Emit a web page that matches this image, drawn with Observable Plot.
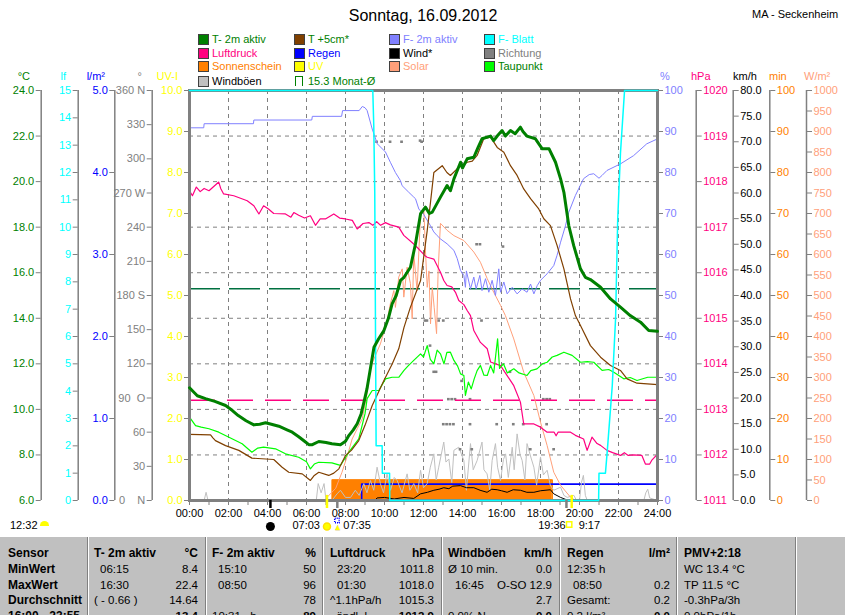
<!DOCTYPE html>
<html><head><meta charset="utf-8">
<script src="https://cdn.jsdelivr.net/npm/d3@7"></script>
<script src="https://cdn.jsdelivr.net/npm/@observablehq/plot@0.6"></script>
<style>
html,body{margin:0;padding:0;background:#fff;overflow:hidden;}
body{width:845px;height:615px;position:relative;font-family:"Liberation Sans",Arial,sans-serif;}
#chart{position:absolute;left:0;top:0;}
.t{position:absolute;white-space:pre;line-height:14px;height:14px;}
.sw{position:absolute;width:9px;height:9px;border:1px solid #404040;}
#tbl{position:absolute;left:0;top:537px;width:845px;height:78px;background:#c0c0c0;overflow:hidden;}
.dv{position:absolute;top:0;height:78px;width:1px;background:#808080;border-right:1px solid #fff;}
</style></head><body>
<div id="chart"></div>
<div id="ov"></div>
<div id="tbl"></div>
<script>
// ---------- data (hour of day, value in own unit) ----------
const t2m = [[0,10.95],[0.4,10.6],[0.82,10.47],[1.3,10.35],[1.85,10.17],[2.2,9.95],[2.5,9.73],[2.9,9.5],[3.3,9.32],[3.6,9.35],[3.9,9.41],[4.2,9.35],[4.58,9.26],[5.0,9.1],[5.27,9.0],[5.6,8.8],[5.9,8.6],[6.12,8.45],[6.3,8.45],[6.63,8.59],[7.0,8.55],[7.3,8.49],[7.74,8.45],[8.0,8.6],[8.17,8.85],[8.4,9.1],[8.6,9.37],[8.8,9.8],[8.94,10.3],[9.1,10.9],[9.2,11.4],[9.46,12.73],[9.7,13.1],[9.97,13.46],[10.2,14.0],[10.39,14.63],[10.6,15.0],[10.82,15.66],[11.0,15.8],[11.33,16.24],[11.59,17.27],[11.85,18.59],[12.1,18.88],[12.3,18.6],[12.45,18.66],[12.87,19.32],[13.21,19.83],[13.38,19.6],[13.56,20.12],[13.9,20.85],[14.0,20.6],[14.24,21.0],[14.58,21.07],[14.8,21.5],[15.0,21.88],[15.44,22.0],[15.6,21.8],[15.78,22.0],[16.03,22.24],[16.2,22.0],[16.46,22.24],[16.7,22.1],[16.97,22.39],[17.1,22.2],[17.3,22.0],[17.74,21.88],[18.09,21.44],[18.44,21.44],[18.77,20.85],[19.03,20.12],[19.2,19.53],[19.45,18.07],[19.7,17.2],[20.05,16.17],[20.3,15.8],[20.56,15.7],[21.08,15.36],[21.59,14.85],[22.1,14.49],[22.6,14.12],[23.13,13.83],[23.55,13.46],[24,13.43]];
const t5cm = [[0,8.9],[1.08,8.88],[1.2,8.75],[1.33,8.63],[1.85,8.41],[2.53,8.2],[3.2,7.86],[4.32,7.8],[4.75,7.46],[5.09,7.24],[5.78,7.17],[6.2,6.88],[6.4,7.1],[6.63,7.24],[7.14,7.1],[7.4,7.2],[7.66,7.39],[8.0,7.98],[8.3,8.2],[8.68,8.63],[9.0,9.3],[9.37,10.17],[9.97,11.27],[10.4,12.0],[10.73,12.66],[11.0,13.6],[11.33,14.49],[11.85,15.66],[12.19,17.85],[12.36,19.1],[12.53,20.4],[12.96,20.7],[13.2,20.4],[13.38,20.27],[13.72,20.56],[14.24,20.85],[14.5,20.9],[14.75,21.15],[15.09,21.88],[15.44,21.95],[15.78,21.5],[16.12,21.29],[16.46,20.7],[16.8,20.27],[17.14,19.68],[17.49,19.25],[17.91,18.8],[18.17,18.37],[18.51,18.07],[18.85,17.2],[19.2,16.17],[19.54,14.85],[19.79,14.12],[20.05,13.68],[20.56,12.8],[21.08,12.29],[21.59,11.93],[22.1,11.71],[22.44,11.34],[22.95,11.15],[24,11.09]];
const dewPoint = [[0,9.66],[0.31,9.29],[0.6,9.22],[1.0,9.15],[1.5,9.0],[2.18,8.71],[2.7,8.49],[3.2,8.12],[3.5,8.3],[3.8,8.34],[4.41,8.27],[4.92,8.05],[5.6,7.9],[6.0,7.7],[6.2,7.39],[6.4,7.6],[6.63,7.68],[7.3,7.65],[7.74,7.54],[8.17,8.12],[8.68,8.71],[9.0,9.8],[9.11,10.47],[9.37,10.83],[9.71,10.83],[10.05,11.34],[10.39,11.41],[10.73,11.41],[11.0,11.71],[11.2,11.9],[11.5,12.15],[11.85,12.44],[12.0,12.3],[12.19,12.8],[12.35,12.2],[12.53,12.0],[12.7,12.6],[12.87,12.44],[13.05,12.0],[13.2,12.5],[13.38,12.51],[13.56,12.15],[13.75,11.9],[13.9,11.56],[14.07,11.49],[14.15,10.61],[14.3,11.2],[14.45,10.9],[14.6,11.34],[14.75,11.7],[14.92,11.93],[15.1,11.5],[15.27,11.49],[15.44,11.93],[15.6,11.6],[15.8,13.1],[15.9,11.8],[16.1,12.0],[16.3,11.6],[16.63,11.78],[16.9,11.6],[17.31,11.49],[17.5,11.7],[17.82,11.78],[18.1,12.0],[18.34,12.07],[18.6,12.3],[18.85,12.37],[19.2,12.51],[19.62,12.37],[20.05,12.07],[20.4,12.1],[20.73,12.07],[21.16,11.71],[21.5,11.75],[21.76,11.63],[22.27,11.34],[22.6,11.4],[22.95,11.27],[23.5,11.41],[24,11.41]];
const humidity = [[0,91.5],[0.05,90.9],[0.73,90.9],[0.75,91.9],[3.28,91.9],[3.3,92.8],[6.27,92.8],[6.3,93.7],[7.8,93.7],[7.85,95.1],[8.7,95.1],[8.86,96.1],[9.0,95.8],[9.11,95.1],[9.37,90.6],[9.63,87],[10.05,85],[10.3,82.5],[10.56,80],[10.82,78],[10.9,76.8],[11.24,75.2],[11.5,74],[11.59,73.6],[11.76,71.1],[12.02,69.7],[12.36,67],[12.53,65.5],[12.7,64.6],[12.87,63.8],[13.21,62.6],[13.56,61],[13.73,59],[13.9,56.1],[14.07,54.9],[14.15,52],[14.2,56],[14.41,51.6],[14.58,54.5],[14.7,51.6],[14.89,54.9],[15.0,51.2],[15.18,54.1],[15.35,50.8],[15.52,53.7],[15.69,50],[15.86,56.5],[15.95,50.8],[16.12,53.3],[16.29,50.4],[16.55,52],[16.8,50.4],[17.06,51.6],[17.31,50.8],[17.49,52.8],[17.66,50.4],[17.83,52.4],[18.0,53.7],[18.34,55.3],[18.68,57.3],[18.85,59.8],[19.03,63],[19.28,67],[19.45,70.3],[19.79,74.4],[20.21,78.5],[20.5,79.5],[20.73,79.7],[21.0,78.6],[21.16,79.3],[21.41,80.5],[22.1,82.1],[22.77,84.1],[23.45,87],[24,88.2]];
const pressure = [[0,1017.8],[0.15,1017.69],[0.35,1017.88],[0.55,1017.78],[0.75,1017.85],[1.0,1017.8],[1.5,1017.99],[1.6,1017.85],[1.75,1017.73],[2.27,1017.69],[2.96,1017.58],[3.3,1017.47],[3.56,1017.29],[3.8,1017.47],[4.05,1017.4],[4.32,1017.3],[4.92,1017.29],[5.2,1017.22],[5.35,1017.32],[5.6,1017.26],[5.9,1017.2],[6.2,1017.25],[6.46,1017.04],[6.7,1017.18],[6.97,1017.18],[7.4,1017.29],[7.7,1017.2],[8.0,1017.18],[8.35,1017.15],[8.6,1016.96],[8.9,1017.08],[9.2,1017.1],[9.4,1017.04],[9.6,1017.12],[9.8,1017.04],[10.05,1017.1],[10.3,1017.05],[10.73,1017.0],[10.99,1016.82],[11.5,1016.63],[11.76,1016.52],[12.06,1016.38],[12.19,1016.34],[12.53,1016.3],[12.87,1016.01],[13.04,1015.83],[13.21,1015.72],[13.45,1015.69],[13.64,1015.57],[13.81,1015.39],[14.07,1015.3],[14.24,1015.17],[14.41,1015.06],[14.58,1014.73],[14.92,1014.47],[15.27,1014.33],[15.44,1014.04],[15.95,1013.96],[16.29,1013.74],[16.63,1013.52],[16.97,1013.16],[17.14,1012.68],[17.66,1012.68],[18.0,1012.61],[18.34,1012.5],[18.7,1012.5],[18.8,1012.42],[18.9,1012.5],[19.54,1012.5],[19.79,1012.43],[20.21,1012.35],[20.39,1012.1],[20.64,1012.39],[20.9,1012.25],[21.08,1012.21],[21.41,1012.1],[21.7,1012.05],[22.1,1011.99],[22.3,1012.05],[22.5,1011.99],[22.77,1012.0],[23.2,1011.99],[23.38,1011.8],[23.6,1011.8],[23.7,1011.88],[24,1012.02]];
const solar = [[0,0],[6.9,0],[7.0,5],[7.5,30],[7.82,69],[8.1,110],[8.34,150],[8.6,175],[8.86,199],[9.1,260],[9.28,325],[9.5,350],[9.79,382],[10.14,439],[10.3,480],[10.48,512],[10.56,471],[10.73,545],[10.91,565],[10.99,496],[11.16,569],[11.33,529],[11.42,443],[11.5,602],[11.67,512],[11.85,699],[12.02,707],[12.1,610],[12.19,520],[12.28,560],[12.36,431],[12.45,520],[12.55,470],[12.67,407],[12.75,560],[12.87,676],[13.21,659],[13.56,646],[14.07,634],[14.58,606],[14.92,581],[15.27,541],[15.6,508],[15.95,476],[16.2,451],[16.63,394],[17.14,313],[17.66,256],[18.0,191],[18.34,134],[18.68,69],[19.03,37],[19.54,8],[19.8,0],[24,0]];
const leafWet = [[0,15],[9.4,15],[9.45,13.7],[9.5,11.3],[9.57,2.0],[9.88,2.0],[9.89,1.0],[10.26,1.0],[10.27,0],[20.98,0],[21.0,1.0],[21.33,1.0],[21.42,1.77],[21.68,4.2],[21.85,6.65],[21.96,10.3],[22.1,12.7],[22.31,15],[24,15]];
const gusts = [[0,0],[0.75,0],[0.85,1.6],[0.95,0],[6.5,0],[6.6,3.3],[6.75,1.5],[6.9,3.3],[7.0,0],[7.3,0],[7.57,1.3],[7.74,2.0],[8.0,0.6],[8.26,0.6],[8.5,2.0],[8.7,1.0],[8.94,3.3],[9.1,1.5],[9.28,3.9],[9.45,2.0],[9.62,6.5],[9.79,3.3],[9.95,1.5],[10.13,5.2],[10.31,2.0],[10.5,4.5],[10.65,3.9],[10.9,1.5],[11.16,5.2],[11.3,2.0],[11.5,3.3],[11.7,1.5],[11.85,5.9],[12.0,2.5],[12.19,3.3],[12.35,6.5],[12.53,9.1],[12.65,4.0],[12.78,6.5],[13.04,11.4],[13.15,7.5],[13.3,8.1],[13.45,3.5],[13.56,9.8],[13.81,10.4],[14.07,7.8],[14.2,2.0],[14.41,11.1],[14.55,6.0],[14.75,7.8],[15.0,11.4],[15.1,6.0],[15.26,5.2],[15.4,2.0],[15.52,7.8],[15.69,11.1],[15.8,6.5],[15.95,3.9],[16.1,8.0],[16.21,9.1],[16.35,4.5],[16.55,10.4],[16.65,6.0],[16.8,13.0],[16.95,9.0],[17.06,7.8],[17.2,4.0],[17.31,11.1],[17.5,8.5],[17.66,6.5],[17.8,3.0],[18.0,8.5],[18.15,5.0],[18.34,5.9],[18.5,3.0],[18.68,2.0],[19.03,2.6],[19.2,1.0],[19.37,0.6],[19.71,1.0],[19.85,0],[20.0,0],[20.1,3.5],[20.2,4.9],[20.3,1.0],[20.4,0],[23.3,0],[23.4,1.5],[23.5,2.2],[23.6,0.5],[24,0]];
const windAvg = [[9.5,0],[9.62,0.5],[10.0,0.6],[10.5,0.3],[11.0,0.6],[11.5,0.4],[11.85,1.3],[12.2,1.6],[12.53,2.0],[12.8,2.2],[13.04,2.5],[13.3,2.3],[13.5,2.8],[13.9,2.9],[14.2,2.5],[14.58,2.5],[14.9,2.0],[15.26,1.6],[15.5,2.2],[15.78,2.1],[16.0,1.9],[16.29,1.6],[16.6,2.1],[16.97,2.0],[17.3,1.6],[17.66,1.6],[18.0,1.9],[18.51,2.1],[18.68,1.3],[19.03,0.6],[19.3,0.2],[19.54,0]];
const direction = [[9.62,315],[9.88,315],[10.31,315],[10.9,315],[11.85,316],[11.93,315],[12.1,158],[12.2,158],[12.36,136],[12.55,113],[12.67,113],[12.8,158],[13.04,67],[13.04,158],[13.21,67],[13.3,89],[13.38,67],[13.47,89],[13.56,67],[13.64,89],[13.9,45],[13.98,105],[14.41,89],[14.41,67],[14.5,45],[14.75,225],[14.92,225],[15.0,158],[15.78,67],[16.1,223],[16.46,113],[16.63,67],[17.14,67],[17.5,45],[18.17,89],[18.34,67],[18.34,89],[18.5,89],[18.7,45]];
const sunshine = [[0,0],[7.32,5],[18.6,0],[24,0]];
const rain = [[8.83,0],[8.83,0.2],[24,0.2]];
const monthAvgTemp = [15.3];
const refPressure = [1013.2];
const dayMarkers = [{h:4.15,c:"#000000",len:0.02},{h:7.05,c:"#ffff00",len:0.032},{h:7.58,c:"#808080",len:0.02},{h:19.33,c:"#808080",len:0.02},{h:19.6,c:"#ffff00",len:0.032}];
const bottomTexts = [{h:7.05,text:"07:03",dx:-7,anchor:"end"},{h:7.58,text:"07:35",dx:6,anchor:"start"},{h:19.6,text:"19:36",dx:-6,anchor:"end"},{h:19.6,text:"9:17",dx:7,anchor:"start"}];
const moonPhase = [4.15];
const sunrise = [7.05];
const hourTicks = d3.range(0,25,1);

// ---------- units ----------
const R = {C:[6,24], lf:[0,15], rain:[0,5], dir:[0,360], uv:[0,10], pct:[0,100], hpa:[1011,1020], kmh:[0,80], min:[0,100], wm2:[0,1000]};
const nm = (u,v) => (v - R[u][0])/(R[u][1]-R[u][0]);
const dn = (u,t) => R[u][0] + t*(R[u][1]-R[u][0]);
const dirNames = {360:"360 N",270:"270 W",180:"180 S",90:"90\u00a0\u00a0O",0:"0\u00a0\u00a0\u00a0\u00a0N"};

const axesLeft = [
  {u:"C", ticks:d3.range(6,24.01,2), fmt:v=>v.toFixed(1), color:"#008000", off:-148.3},
  {u:"lf", ticks:d3.range(0,15.01,1), fmt:v=>String(Math.round(v)), color:"#00ffff", off:-111.3},
  {u:"rain", ticks:[0,1,2,3,4,5], fmt:v=>v.toFixed(1), color:"#0000ff", off:-74.7},
  {u:"dir", ticks:d3.range(0,361,30), fmt:v=>dirNames[Math.round(v)] ?? String(Math.round(v)), color:"#808080", off:-37.3},
  {u:"uv", ticks:d3.range(0,10.01,1), fmt:v=>v.toFixed(1), color:"#ffff00", off:0}
];
const axesRight = [
  {u:"pct", ticks:d3.range(0,100.1,10), fmt:v=>String(Math.round(v)), color:"#8080ff", off:0},
  {u:"hpa", ticks:d3.range(1011,1020.1,1), fmt:v=>String(Math.round(v)), color:"#ff0080", off:38.7},
  {u:"kmh", ticks:d3.range(0,80.1,5), fmt:v=>v.toFixed(1), color:"#000000", off:75.7},
  {u:"min", ticks:d3.range(0,100.1,10), fmt:v=>String(Math.round(v)), color:"#ff8000", off:112.3},
  {u:"wm2", ticks:d3.range(0,1000.1,50), fmt:v=>String(Math.round(v)), color:"#ffa07a", off:149}
];

const L = (data,u,stroke,w=1,extra={}) => Plot.line(data,{x:d=>d[0], y:d=>nm(u,d[1]), stroke, strokeWidth:w, ...extra});

const axisMarks = [];
for (const [list, anchor, edge] of [[axesLeft,"left",0],[axesRight,"right",24]]) {
  for (const a of list) {
    const tk = a.ticks.map(v=>nm(a.u,v));
    if (a.off !== 0) axisMarks.push(Plot.ruleX([edge],{dx:a.off, stroke:"#808080", strokeWidth:1.5}));
    axisMarks.push(Plot.axisY({ticks:tk, anchor, dx:a.off, tickSize:5, tickPadding:2, label:null,
      stroke:"#808080", fill:a.color, color:a.color, tickFormat:t=>a.fmt(dn(a.u,t))}));
  }
}

const chart = Plot.plot({
  width:845, height:537, marginLeft:189, marginRight:188, marginTop:90, marginBottom:37,
  x:{domain:[0,24]}, y:{domain:[0,1]},
  style:{fontFamily:"'Liberation Sans', Arial, sans-serif", fontSize:"11px", overflow:"visible", background:"transparent"},
  marks:[
    Plot.ruleX(d3.range(2,23,2),{stroke:"#808080", strokeDasharray:"4,4"}),
    Plot.ruleY(d3.range(8,23,2),{y:v=>nm("C",v), stroke:"#808080", strokeDasharray:"4,4"}),
    ...axisMarks,
    Plot.axisX({ticks:hourTicks, tickSize:5, tickPadding:4, label:null, stroke:"#808080", fill:"#000",
      tickFormat:h=>h%2 ? "" : String(h).padStart(2,"0")+":00"}),
    Plot.areaY(sunshine,{x:d=>d[0], y:d=>nm("min",d[1]), fill:"#ff8000", curve:"step-after"}),
    L(sunshine,"min","#ff8000",1.5,{curve:"step-after"}),
    L(rain,"rain","#0000ff",1.6),
    L(gusts,"kmh","#c0c0c0",1),
    L(windAvg,"kmh","#000000",1),
    Plot.ruleY(direction,{x1:d=>d[0]-0.07, x2:d=>d[0]+0.07, y:d=>nm("dir",d[1]), stroke:"#808080", strokeWidth:2.5}),
    Plot.ruleY(monthAvgTemp,{y:v=>nm("C",v), stroke:"#007040", strokeWidth:1.5, strokeDasharray:"31,9"}),
    Plot.ruleY(refPressure,{y:v=>nm("hpa",v), stroke:"#ff0080", strokeWidth:1.5, strokeDasharray:"26,12"}),
    L(solar,"wm2","#ffa07a",1),
    L(humidity,"pct","#8080ff",1),
    L(pressure,"hpa","#ff0080",1.2),
    L(dewPoint,"C","#00ff00",1.2),
    L(t5cm,"C","#804000",1.2),
    Plot.frame({stroke:"#808080", strokeWidth:3}),
    L(leafWet,"lf","#00ffff",1.5),
    L(t2m,"C","#008000",3),
    ...dayMarkers.map(m=>Plot.ruleX([m],{x:"h", y1:0, y2:m.len, dy:8, stroke:m.c, strokeWidth:2.5})),
    Plot.dot(moonPhase,{x:d=>d, y:0, dy:26, r:4.5, fill:"#000"}),
    Plot.dot(sunrise,{x:d=>d, y:0, dy:26, r:3.5, fill:"#ffff00", stroke:"#ffe000"}),
    ...bottomTexts.map(d=>Plot.text([d],{x:"h", y:0, dy:25, dx:d.dx, text:"text", textAnchor:d.anchor, fill:"#000"})),
    Plot.text(["▲"],{x:7.6, y:0, dy:27, text:d=>d, fill:"#ffff00", stroke:"#c0a000", strokeWidth:0.3, fontSize:8}),
    Plot.dot([7.56],{x:d=>d, y:0, dy:20, r:2.5, symbol:"square", stroke:"#0000ff", strokeDasharray:"1,1", fill:"none"}),
    Plot.dot([19.47],{x:d=>d, y:0, dy:24, r:3, symbol:"square", stroke:"#ffff00", strokeWidth:1.5, fill:"none"})
  ]
});
document.getElementById("chart").appendChild(chart);

// ---------- overlay texts ----------
const ov = document.getElementById("ov");
function put(parent, text, x, yc, {anchor="start", color="#000", size=11, bold=false}={}) {
  const e = document.createElement("div");
  e.className = "t";
  e.textContent = text;
  e.style.top = (yc-7)+"px";
  e.style.color = color;
  e.style.fontSize = size+"px";
  if (bold) e.style.fontWeight = "bold";
  if (anchor==="start") e.style.left = x+"px";
  else if (anchor==="end") e.style.right = (845-x)+"px";
  else { e.style.left = x+"px"; e.style.transform = "translateX(-50%)"; }
  parent.appendChild(e);
  return e;
}
put(ov,"Sonntag, 16.09.2012",423,16,{anchor:"middle",size:16});
put(ov,"MA - Seckenheim",752,14,{size:11});

const legend = [
  [["T- 2m aktiv","#008000","#008000"],["T +5cm*","#804000","#008000"],["F- 2m aktiv","#8080ff","#8080ff"],["F- Blatt","#00ffff","#00ffff"]],
  [["Luftdruck","#ff0080","#ff0080"],["Regen","#0000ff","#0000ff"],["Wind*","#000000","#000000"],["Richtung","#808080","#808080"]],
  [["Sonnenschein","#ff8000","#ff8000"],["UV","#ffff00","#ffff00"],["Solar","#ffa07a","#ffa07a"],["Taupunkt","#00ff00","#008000"]],
  [["Windböen","#c0c0c0","#000000"],["15.3 Monat-Ø",null,"#008000"]]
];
const legX = [198,294,389,484], legY = [38.5,52.5,66.3,80.5];
legend.forEach((row,ri)=>row.forEach((it,ci)=>{
  const [label, sw, tc] = it;
  const s = document.createElement("div");
  s.className = "sw";
  s.style.left = legX[ci]+"px"; s.style.top = (legY[ri]-5)+"px";
  if (sw) s.style.background = sw;
  else { s.style.border="1px solid #008000"; s.style.borderBottom="none"; s.style.width="6px"; s.style.left=(legX[ci]+1)+"px"; }
  ov.appendChild(s);
  put(ov,label,legX[ci]+14,legY[ri],{color:tc});
}));

// axis headers
[["°C",30,"#008000"],["lf",66,"#00ffff"],["l/m²",105,"#0000ff"],["°",142,"#808080"],["UV-I",178,"#ffff00"]]
  .forEach(([t,x,c])=>put(ov,t,x,76,{anchor:"end",color:c}));
[["%",660,"#8080ff"],["hPa",691,"#ff0080"],["km/h",733,"#000000"],["min",769,"#ff8000"],["W/m²",804,"#ffa07a"]]
  .forEach(([t,x,c])=>put(ov,t,x,76,{color:c}));

// sunshine duration note
put(ov,"12:32",10,525);
const cap = document.createElement("div");
cap.style.cssText = "position:absolute;left:40px;top:521px;width:9px;height:5px;background:#ffff00;border-radius:5px 5px 0 0;";
ov.appendChild(cap);

// ---------- table ----------
const tbl = document.getElementById("tbl");
[87,205,322,441,559,676,795].forEach(x=>{const d=document.createElement("div");d.className="dv";d.style.left=x+"px";tbl.appendChild(d);});
const rowY = [16,32,47.5,63,78.8];
const cols = [
  {lx:8, rx:null, cells:[["Sensor",""],["MinWert",""],["MaxWert",""],["Durchschnitt",""],["16:00 - 23:55",""]], boldL:true},
  {lx:94, rx:198, sub:100, cells:[["T- 2m aktiv","°C"],["06:15","8.4"],["16:30","22.4"],["( - 0.66 )","14.64"],["","13.4"]]},
  {lx:212, rx:316, sub:218, cells:[["F- 2m aktiv","%"],["15:10","50"],["08:50","96"],["","78"],["10:31 ..h","89"]]},
  {lx:330, rx:434, sub:337, cells:[["Luftdruck","hPa"],["23:20","1011.8"],["01:30","1018.0"],["^1.1hPa/h","1015.3"],["  ändl. l.","1012.9"]]},
  {lx:448, rx:552, sub:455, cells:[["Windböen","km/h"],["Ø 10 min.","0.0"],["16:45","O-SO 12.9"],["","2.7"],["0.0% N","0.0"]]},
  {lx:567, rx:670, sub:573, cells:[["Regen","l/m²"],["12:35 h",""],["08:50","0.2"],["Gesamt:","0.2"],["0.2 l/m²","0.0"]]},
  {lx:684, rx:null, cells:[["PMV+2:18",""],["WC 13.4 °C",""],["TP 11.5 °C",""],["-0.3hPa/3h",""],["0.0hPa/1h",""]]}
];
cols.forEach((c,ci)=>{
  c.cells.forEach((cell,ri)=>{
    const [l,r] = cell;
    const head = ri===0, last = ri===4;
    let lx = c.lx;
    if (ci>0 && ci<6 && !head && c.sub && /^\d\d:\d\d$/.test(l)) lx = c.sub;
    if (l) put(tbl,l,lx,rowY[ri],{size: (head||c.boldL)?12:11.5, bold: head||c.boldL});
    if (r) put(tbl,r,c.rx,rowY[ri],{anchor:"end", size: head?12:11.5, bold: head||last});
  });
});
</script>
</body></html>
